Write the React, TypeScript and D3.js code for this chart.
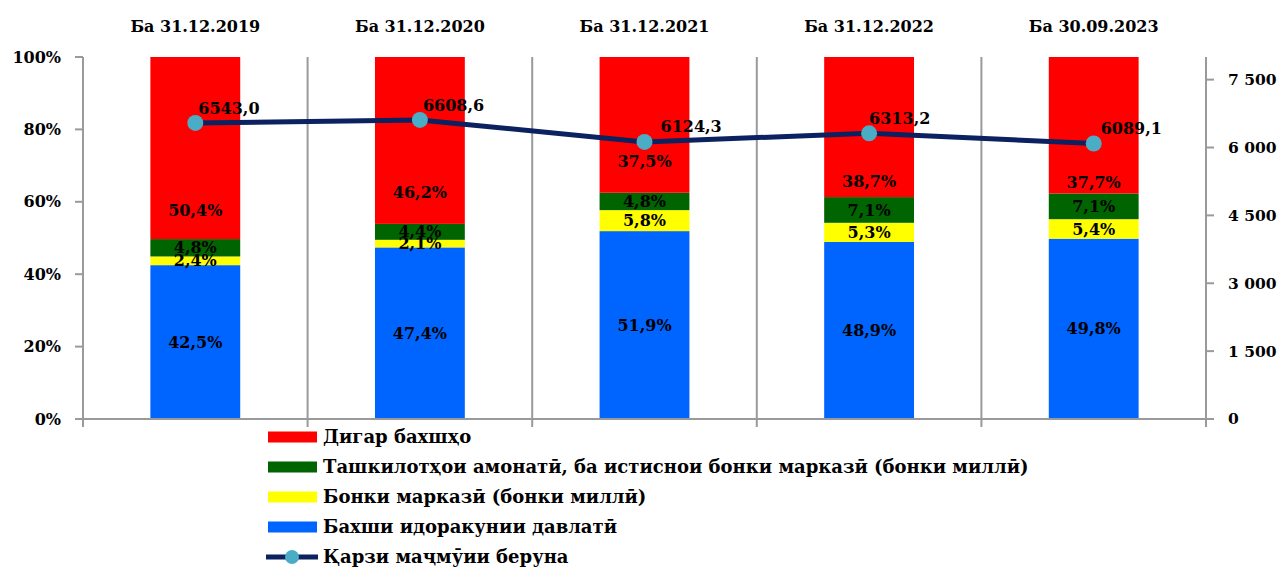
import { useEffect, useRef } from "react";
import * as d3 from "d3";

// categories (dates)
const periods = ["Ба 31.12.2019", "Ба 31.12.2020", "Ба 31.12.2021", "Ба 31.12.2022", "Ба 30.09.2023"];

// shares, %
const govShare = [42.5, 47.4, 51.9, 48.9, 49.8];
const centralBankShare = [2.4, 2.1, 5.8, 5.3, 5.4];
const depositShare = [4.8, 4.4, 4.8, 7.1, 7.1];
const otherShare = [50.4, 46.2, 37.5, 38.7, 37.7];

// total external debt
const totalDebt = [6543.0, 6608.6, 6124.3, 6313.2, 6089.1];

const leftTicks = [0, 20, 40, 60, 80, 100];
const rightTicks = [0, 1500, 3000, 4500, 6000, 7500];

const seriesNames = [
  "Дигар бахшҳо",
  "Ташкилотҳои амонатӣ, ба истиснои бонки марказӣ (бонки миллӣ)",
  "Бонки марказӣ (бонки миллӣ)",
  "Бахши идоракунии давлатӣ",
  "Қарзи маҷмӯии беруна",
];

const fmt = (v: number, d = 1) => v.toFixed(d).replace(".", ",");

export default function App() {
  const svgRef = useRef<SVGSVGElement>(null);

  useEffect(() => {
    if (!svgRef.current) return;
    const svg = d3.select(svgRef.current);
    svg.selectAll("*").remove();

    const font = "'DejaVu Serif', serif";
    const left = 83;
    const right = 1206;
    const top = 57;
    const bottom = 419;
    const axisColor = "#9a9a9a";

    const x = d3.scaleBand<number>().domain(d3.range(periods.length)).range([left, right]).paddingInner(0).paddingOuter(0);
    const y = d3.scaleLinear().domain([0, 100]).range([bottom, top]);
    const y2 = d3.scaleLinear().domain([0, 8000]).range([bottom, top]);
    const barW = x.bandwidth() * 0.4;

    const stackKeys = [
      { vals: govShare, color: "#0064ff" },
      { vals: centralBankShare, color: "#ffff00" },
      { vals: depositShare, color: "#006400" },
      { vals: otherShare, color: "#ff0000" },
    ];

    const g = svg.append("g");

    // vertical separators between categories
    d3.range(periods.length + 1).forEach((i) => {
      const xx = left + i * x.step();
      g.append("line")
        .attr("x1", xx).attr("x2", xx)
        .attr("y1", top)
        .attr("y2", bottom + 8)
        .attr("stroke", axisColor)
        .attr("stroke-width", 2);
    });

    // bars
    periods.forEach((_, i) => {
      let acc = 0;
      const cx = (x(i) as number) + x.bandwidth() / 2;
      stackKeys.forEach((s, k) => {
        const v = s.vals[i];
        const y0 = y(acc);
        // last segment fills to 100%
        const y1 = k === stackKeys.length - 1 ? y(100) : y(acc + v);
        g.append("rect")
          .attr("x", cx - barW / 2)
          .attr("width", barW)
          .attr("y", y1)
          .attr("height", y0 - y1)
          .attr("fill", s.color);
        acc += v;
      });
    });

    // segment labels
    const redShift = [-29, -31, -31, -16, -11];
    periods.forEach((_, i) => {
      const cx = (x(i) as number) + x.bandwidth() / 2;
      let acc = 0;
      stackKeys.forEach((s, k) => {
        const v = s.vals[i];
        let ly = (y(acc) + y(acc + v)) / 2;
        if (k === 3) ly = y(acc) + redShift[i];
        g.append("text")
          .attr("x", cx)
          .attr("y", ly)
          .attr("dy", "0.35em")
          .attr("text-anchor", "middle")
          .attr("font-family", font)
          .attr("font-weight", "bold")
          .attr("font-size", 16)
          .attr("fill", "#000")
          .text(`${fmt(v)}%`);
        acc += v;
      });
    });

    // axes
    g.append("line").attr("x1", left - 8).attr("x2", right + 8).attr("y1", bottom).attr("y2", bottom)
      .attr("stroke", axisColor).attr("stroke-width", 2);
    leftTicks.forEach((t) => {
      g.append("line").attr("x1", left - 8).attr("x2", left).attr("y1", y(t)).attr("y2", y(t))
        .attr("stroke", axisColor).attr("stroke-width", 2);
      g.append("text")
        .attr("x", 61).attr("y", y(t)).attr("dy", "0.35em")
        .attr("text-anchor", "end")
        .attr("font-family", font).attr("font-weight", "bold").attr("font-size", 16)
        .text(`${t}%`);
    });
    rightTicks.forEach((t) => {
      g.append("line").attr("x1", right).attr("x2", right + 8).attr("y1", y2(t)).attr("y2", y2(t))
        .attr("stroke", axisColor).attr("stroke-width", 2);
      g.append("text")
        .attr("x", 1228).attr("y", y2(t)).attr("dy", "0.35em")
        .attr("text-anchor", "start")
        .attr("font-family", font).attr("font-weight", "bold").attr("font-size", 15.5)
        .text(d3.format(",")(t).replace(",", " "));
    });

    // category headers
    periods.forEach((p, i) => {
      g.append("text")
        .attr("x", (x(i) as number) + x.bandwidth() / 2)
        .attr("y", 26).attr("dy", "0.35em")
        .attr("text-anchor", "middle")
        .attr("font-family", font).attr("font-weight", "bold").attr("font-size", 16)
        .text(p);
    });

    // line
    const line = d3.line<number>()
      .x((_, i) => (x(i) as number) + x.bandwidth() / 2)
      .y((d) => y2(d));
    g.append("path")
      .datum(totalDebt)
      .attr("d", line)
      .attr("fill", "none")
      .attr("stroke", "#0b2160")
      .attr("stroke-width", 5);
    const labelDx = [3, 3, 16, 0, 7];
    totalDebt.forEach((d, i) => {
      const cx = (x(i) as number) + x.bandwidth() / 2;
      g.append("circle").attr("cx", cx).attr("cy", y2(d)).attr("r", 8).attr("fill", "#4bacc6");
      g.append("text")
        .attr("x", cx + labelDx[i]).attr("y", y2(d) - 15).attr("dy", "0.35em")
        .attr("font-family", font).attr("font-weight", "bold").attr("font-size", 16)
        .text(fmt(d));
    });

    // legend
    const legColors = ["#ff0000", "#006400", "#ffff00", "#0064ff"];
    seriesNames.forEach((name, i) => {
      const ly = 437 + i * 30;
      if (i < 4) {
        g.append("rect").attr("x", 268).attr("y", ly - 5.5).attr("width", 49).attr("height", 11).attr("fill", legColors[i]);
      } else {
        g.append("line").attr("x1", 266).attr("x2", 318).attr("y1", ly).attr("y2", ly)
          .attr("stroke", "#0b2160").attr("stroke-width", 5);
        g.append("circle").attr("cx", 292).attr("cy", ly).attr("r", 7).attr("fill", "#4bacc6");
      }
      g.append("text")
        .attr("x", 323).attr("y", ly).attr("dy", "0.35em")
        .attr("font-family", font).attr("font-weight", "bold").attr("font-size", 18)
        .text(name);
    });
  }, []);

  return (
    <svg
      ref={svgRef}
      width={1280}
      height={570}
      style={{ position: "absolute", left: 0, top: 0, background: "#fff" }}
    />
  );
}
